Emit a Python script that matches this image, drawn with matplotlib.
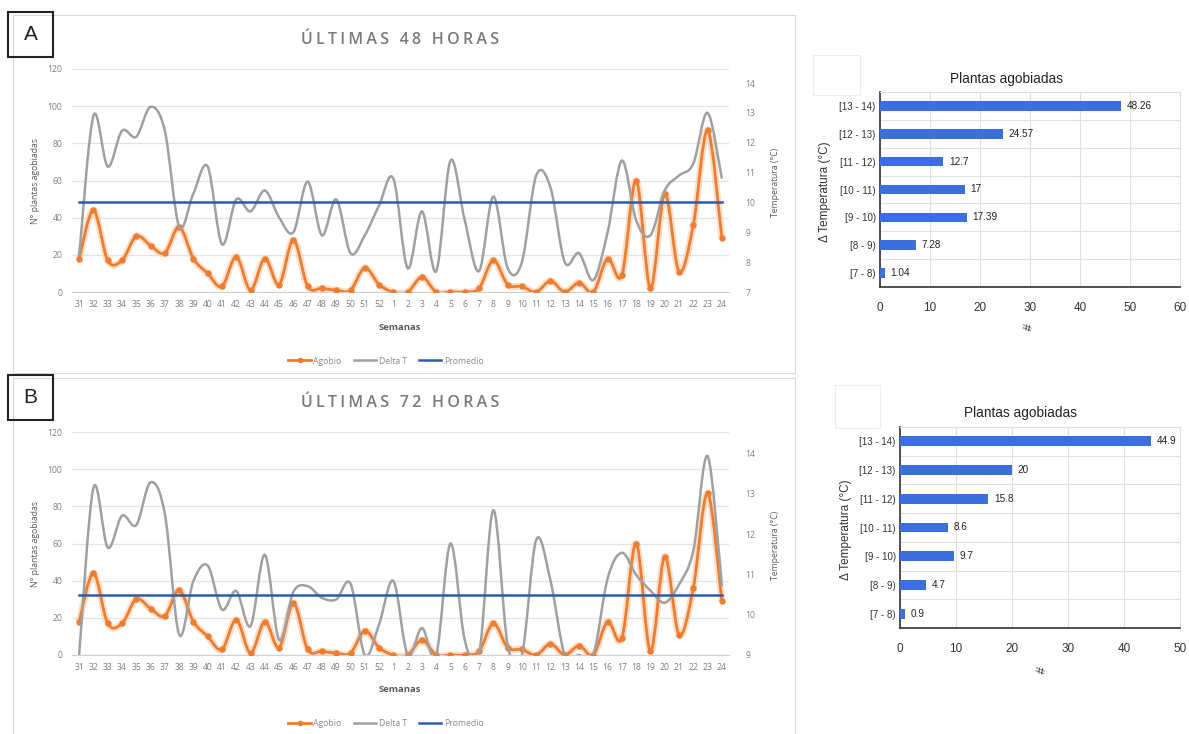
import numpy as np
import matplotlib
matplotlib.use("Agg")
import matplotlib.pyplot as plt
from matplotlib.path import Path
from matplotlib.patches import PathPatch, Rectangle
from matplotlib.lines import Line2D

# datos
semanas = [str(w) for w in range(31, 53)] + [str(w) for w in range(1, 25)]

agobio = [18, 44, 17, 17, 30, 25, 21, 35, 18, 10, 3, 19, 1, 18, 4, 28, 3, 2, 1, 1, 13, 4,
          0, 0, 8, 0, 0, 0, 2, 17, 4, 3, 0, 6, 0, 5, 0, 18, 9, 60, 2, 53, 11, 36, 87, 29]

delta_48 = [8.2, 12.9, 11.2, 12.4, 12.2, 13.2, 12.4, 9.2, 10.3, 11.2, 8.6, 10.1, 9.7, 10.4,
            9.5, 9.0, 10.7, 8.9, 10.1, 8.3, 8.9, 9.9,
            10.8, 7.8, 9.7, 7.7, 11.4, 9.4, 7.7, 10.2, 7.8, 8.0, 10.9, 10.5, 8.0, 8.3, 7.4,
            9.0, 11.4, 9.4, 8.9, 10.4, 10.9, 11.3, 13.0, 10.8]

delta_72 = [9.0, 13.15, 11.67, 12.46, 12.23, 13.29, 12.51, 9.51, 10.84, 11.22, 10.13, 10.59,
            9.72, 11.49, 9.38, 10.57, 10.71, 10.42, 10.38, 10.77, 9.0, 9.76,
            10.84, 9.0, 9.67, 9.0, 11.77, 9.37, 9.0, 12.6, 9.26, 9.0, 11.86, 10.85, 9.0, 9.0,
            9.0, 10.9, 11.54, 10.99, 10.6, 10.3, 10.75, 11.59, 13.94, 10.71]

promedio_48 = 10.0
promedio_72 = 10.5

rangos = ["[7 - 8)", "[8 - 9)", "[9 - 10)", "[10 - 11)", "[11 - 12)", "[12 - 13)", "[13 - 14)"]
pct_48 = [1.04, 7.28, 17.39, 17, 12.7, 24.57, 48.26]
pct_72 = [0.9, 4.7, 9.7, 8.6, 15.8, 20, 44.9]

W, H = 1189, 734
ORANGE = '#ED7D31'
GRAY = '#A0A0A0'
BLUE = '#2F5BAE'
TXT = '#7F7F7F'
BAR = '#3C6FDB'
SMALL = 6.2


def rect(x0, y0, x1, y1):
    # pixel box -> figure fraction
    return [x0 / W, 1 - y1 / H, (x1 - x0) / W, (y1 - y0) / H]


def fx(x):
    return x / W


def fy(y):
    return 1 - y / H


def smooth_path(xs, ys):
    # bezier a la Excel "linea suavizada"
    pts = np.column_stack([xs, ys]).astype(float)
    n = len(pts)
    verts = [pts[0]]
    codes = [Path.MOVETO]
    for i in range(n - 1):
        p0 = pts[i - 1] if i > 0 else pts[i]
        p1 = pts[i]
        p2 = pts[i + 1]
        p3 = pts[i + 2] if i + 2 < n else pts[i + 1]
        verts += [p1 + (p2 - p0) / 6, p2 - (p3 - p1) / 6, p2]
        codes += [Path.CURVE4] * 3
    return Path(verts, codes)


def spaced(s):
    # espaciado entre letras del titulo
    return '\u2009'.join(s)


fig = plt.figure(figsize=(W / 100, H / 100), dpi=100)
plt.rcParams['font.family'] = ['Open Sans', 'DejaVu Sans']


def line_chart(top, letter, title, delta, prom, t_lim, t_ticks):
    # top = offset vertical del panel
    fig.add_artist(Rectangle((fx(13), fy(top + 358)), (795 - 13) / W, 358 / H,
                             transform=fig.transFigure, fill=False, ec='#D9D9D9', lw=0.8))
    fig.add_artist(Rectangle((fx(8), fy(top + 42)), 45 / W, 45 / H,
                             transform=fig.transFigure, fill=False, ec='#222222', lw=1.5))
    fig.text(fx(30.5), fy(top + 19.5), letter, fontsize=15, ha='center', va='center',
             color='#222222', family=['Liberation Sans'])
    fig.text(fx(400), fy(top + 25), spaced(title), fontsize=11.5, ha='center', va='center',
             color='#7A7A7A', fontweight='semibold')

    ax = fig.add_axes(rect(72, top + 54, 729, top + 277))
    x = np.arange(len(semanas))
    ax.set_xlim(-0.5, len(semanas) - 0.5)
    ax.set_ylim(0, 120)
    ax.set_yticks(range(0, 121, 20))
    ax.set_xticks(x)
    ax.set_xticklabels(semanas, fontsize=SMALL, color=TXT)
    ax.tick_params(axis='y', labelsize=SMALL, labelcolor=TXT, length=0, pad=7)
    ax.tick_params(axis='x', length=0, pad=6)
    ax.grid(axis='y', color='#E3E3E3', lw=0.9)
    ax.set_axisbelow(True)
    for s in ['top', 'left', 'right']:
        ax.spines[s].set_visible(False)
    ax.spines['bottom'].set_color('#D0D0D0')

    # agobio con brillo
    ax.add_patch(PathPatch(smooth_path(x, agobio), fill=False, ec='#F8C9A4', lw=5,
                           alpha=0.6, zorder=2))
    ax.add_patch(PathPatch(smooth_path(x, agobio), fill=False, ec=ORANGE, lw=2, zorder=3))
    ax.plot(x, agobio, 'o', ms=3.6, color=ORANGE, zorder=4)

    ax2 = ax.twinx()
    ax2.set_ylim(*t_lim)
    ax2.set_yticks(t_ticks)
    ax2.tick_params(axis='y', labelsize=SMALL, labelcolor=TXT, length=0, pad=12)
    for s in ax2.spines.values():
        s.set_visible(False)
    ax2.add_patch(PathPatch(smooth_path(x, delta), fill=False, ec=GRAY, lw=1.8, zorder=3))
    ax2.plot([x[0], x[-1]], [prom, prom], color=BLUE, lw=1.8, zorder=4)

    fig.text(fx(35), fy(top + 166), 'N° plantas agobiadas', rotation=90, fontsize=SMALL,
             color='#595959', ha='center', va='center')
    fig.text(fx(776), fy(top + 167), 'Temperatura (°C)', rotation=90, fontsize=SMALL,
             color='#595959', ha='center', va='center')
    fig.text(fx(400), fy(top + 312), 'Semanas', fontsize=6.8, color='#595959',
             fontweight='bold', ha='center', va='center')

    handles = [Line2D([], [], color=ORANGE, lw=2, marker='o', ms=3),
               Line2D([], [], color=GRAY, lw=1.8),
               Line2D([], [], color=BLUE, lw=1.8)]
    fig.legend(handles, ['Agobio', 'Delta T', 'Promedio'], loc='center',
               bbox_to_anchor=(fx(386), fy(top + 346)), ncol=3, frameon=False,
               fontsize=SMALL, labelcolor='#8A8A8A', handlelength=2.6, handletextpad=0.3,
               columnspacing=1.4)


line_chart(15, 'A', 'ÚLTIMAS 48 HORAS', delta_48, promedio_48, (7, 14.47), range(7, 15))
line_chart(378, 'B', 'ÚLTIMAS 72 HORAS', delta_72, promedio_72, (9, 14.54), range(9, 15))


def bar_chart(box, faint, pct, xmax, title_xy, ylab_x, hash_xy):
    fig.add_artist(Rectangle((fx(faint[0]), fy(faint[3])), (faint[2] - faint[0]) / W,
                             (faint[3] - faint[1]) / H, transform=fig.transFigure,
                             fill=False, ec='#EDEDED', lw=0.8))
    ax = fig.add_axes(rect(*box))
    y = np.arange(len(rangos))
    bars = ax.barh(y, pct, height=0.34, color=BAR, zorder=3)
    ax.bar_label(bars, labels=[f"{v:g}" for v in pct], padding=4, fontsize=7.2,
                 color='#222222', family=['Liberation Sans'])
    ax.set_xlim(0, xmax)
    ax.set_ylim(-0.5, len(rangos) - 0.5)
    ax.set_xticks(range(0, xmax + 1, 10))
    ax.set_yticks(y)
    ax.set_yticklabels(rangos)
    ax.set_yticks(np.arange(-0.5, len(rangos), 1), minor=True)
    ax.tick_params(axis='y', which='minor', length=0)
    ax.tick_params(axis='y', which='major', length=0, labelsize=7, labelcolor='#333333',
                   pad=3)
    ax.tick_params(axis='x', length=0, labelsize=8.5, labelcolor='#333333', pad=11)
    for lab in ax.get_xticklabels() + ax.get_yticklabels():
        lab.set_family(['Liberation Sans'])
    ax.grid(axis='x', color='#E0E0E0', lw=0.8)
    ax.grid(axis='y', which='minor', color='#E0E0E0', lw=0.8)
    ax.set_axisbelow(True)
    ax.spines['left'].set_color('#333333')
    ax.spines['bottom'].set_color('#333333')
    ax.spines['left'].set_linewidth(1.2)
    ax.spines['bottom'].set_linewidth(1.2)
    ax.spines['top'].set_color('#E0E0E0')
    ax.spines['right'].set_color('#E0E0E0')
    fig.text(fx(title_xy[0]), fy(title_xy[1]), 'Plantas agobiadas', fontsize=9.8,
             ha='center', va='center', color='#222222', family=['Liberation Sans'])
    fig.text(fx(ylab_x), fy((box[1] + box[3]) / 2 + 2), 'Δ Temperatura (°C)', rotation=90,
             fontsize=8.5, ha='center', va='center', color='#333333',
             family=['Liberation Sans'])
    fig.text(fx(hash_xy[0]), fy(hash_xy[1]), '#', rotation=80, fontsize=8.5, ha='center',
             va='center', color='#333333', family=['Liberation Sans'])


bar_chart((880, 92, 1180, 287), (813, 55, 860, 95), pct_48, 60, (1007, 79), 825,
          (1030, 327))
bar_chart((900, 427, 1180, 628), (835, 385, 880, 428), pct_72, 50, (1021, 413), 846,
          (1043, 670))

fig.savefig('out.png', dpi=100, facecolor='white')
